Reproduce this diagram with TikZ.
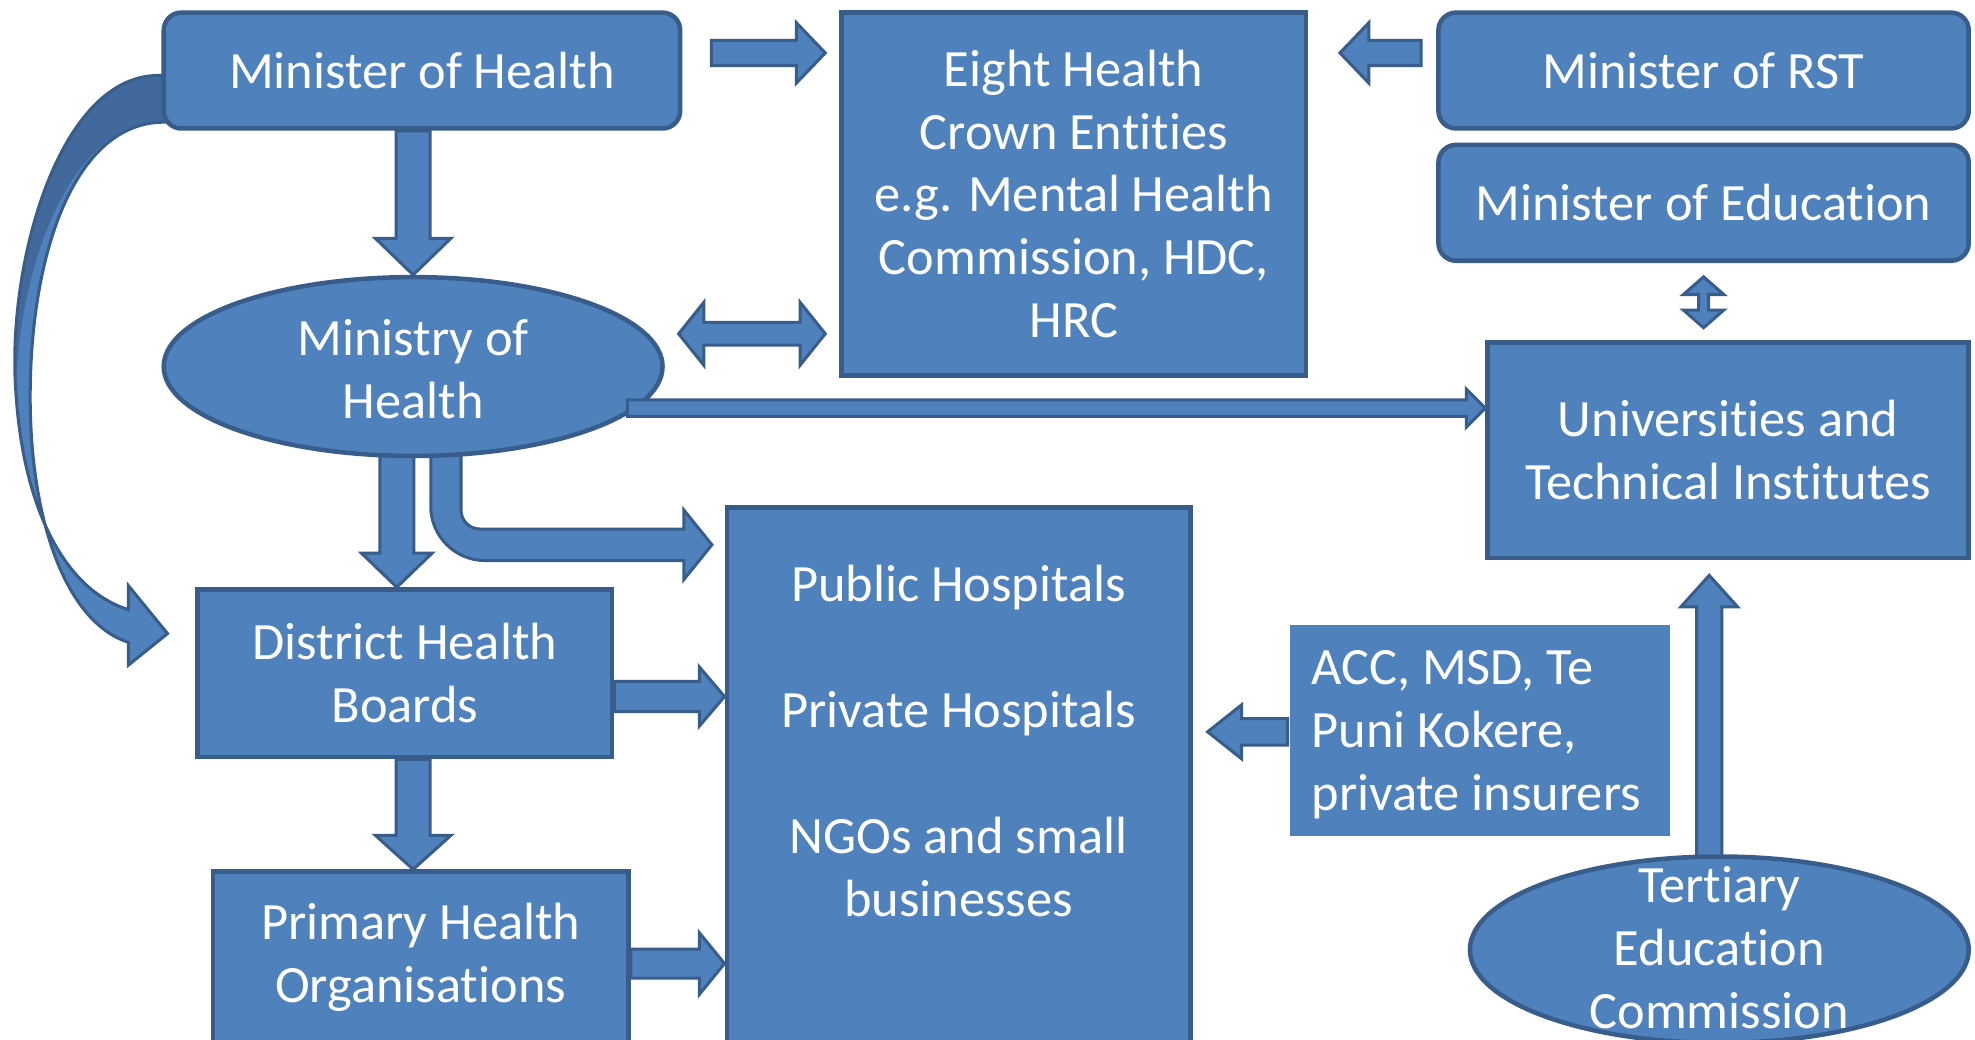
\documentclass[tikz,border=0pt]{standalone}
\usepackage{fontspec}
\setmainfont[Ligatures={NoCommon,NoContextual,NoRequired},Contextuals={NoAlternate}]{Carlito}
\usetikzlibrary{calc,shapes.geometric}

\definecolor{boxfill}{HTML}{4F81BD}
\definecolor{boxline}{HTML}{385D8A}
\definecolor{bandshade}{HTML}{41699C}

\pgfdeclarelayer{back}
\pgfsetlayers{back,main}

% keeps "t" and "i" as two separate glyphs
\newcommand\tsep{t\kern0pt i}

\tikzset{
  base/.style={fill=boxfill, draw=boxline, line width=1.8pt, text=white,
    align=center, inner sep=0pt, font=\fontsize{20.8}{25}\selectfont},
  box/.style={base, rectangle},
  rbox/.style={base, rectangle, rounded corners=7pt},
  oval/.style={base, ellipse},
  plain/.style={base, draw=none},
  lbl/.style={text=white, align=center, inner sep=0pt,
    font=\fontsize{20.8}{25}\selectfont},
  barrow/.style={fill=boxfill, draw=boxline, line width=1.2pt, line join=miter},
}

% measures the segment from #1 to #2: start point, angle and length
\newcommand\measureseg[2]{%
  \path let \p1=(#1), \p2=(#2),
    \n1={atan2(\y2-\y1,\x2-\x1)}, \n2={veclen(\x2-\x1,\y2-\y1)} in
    \pgfextra{\xdef\baX{\x1}\xdef\baY{\y1}\xdef\baAraw{\n1}\xdef\baLraw{\n2}};
  \pgfmathsetmacro\baA{\baAraw}\pgfmathsetmacro\baL{\baLraw}}

% block arrow: [options]{from}{to}{shaft width}{head width}{head length}
\newcommand\blockarrow[6][]{%
  \measureseg{#2}{#3}%
  \pgfmathsetmacro\baS{#4*0.25}\pgfmathsetmacro\baH{#5*0.25}%
  \pgfmathsetmacro\baB{\baL-#6*0.5}%
  \draw[barrow,#1,shift={(\baX,\baY)},rotate=\baA]
    (0pt,-\baS pt) -- (\baB pt,-\baS pt) -- (\baB pt,-\baH pt) -- (\baL pt,0pt)
    -- (\baB pt,\baH pt) -- (\baB pt,\baS pt) -- (0pt,\baS pt) -- cycle;}

% double-headed block arrow, same arguments
\newcommand\dblockarrow[6][]{%
  \measureseg{#2}{#3}%
  \pgfmathsetmacro\baS{#4*0.25}\pgfmathsetmacro\baH{#5*0.25}%
  \pgfmathsetmacro\baF{#6*0.5}\pgfmathsetmacro\baB{\baL-#6*0.5}%
  \draw[barrow,#1,shift={(\baX,\baY)},rotate=\baA]
    (0pt,0pt) -- (\baF pt,-\baH pt) -- (\baF pt,-\baS pt) -- (\baB pt,-\baS pt)
    -- (\baB pt,-\baH pt) -- (\baL pt,0pt) -- (\baB pt,\baH pt) -- (\baB pt,\baS pt)
    -- (\baF pt,\baS pt) -- (\baF pt,\baH pt) -- cycle;}

% outline of the curved arrow from the minister to the health boards
\newcommand\bandpath{(140,60) -- (130,60) .. controls (50,55) and (8,200) .. (12,300)
  .. controls (16,400) and (50,468) .. (102,484) -- (102,465) -- (133,503)
  -- (102,528) -- (102,510) .. controls (55,495) and (25,420) .. (24,320)
  .. controls (23,200) and (60,97) .. (130,97) -- (140,97) -- cycle}

\begin{document}
\begin{tikzpicture}[x=0.5pt,y=-0.5pt]
\useasboundingbox (0,0) rectangle (1568,825);

% ---- organisations ----
\node[rbox, minimum width=205pt, minimum height=46pt] (mh) at (335,56) {Minister of Health};
\node[box, minimum width=184.5pt, minimum height=144pt] (ehce) at (852.5,154)
  {Eight Health\\Crown En\tsep\tsep es\\e.g. Mental Health\\Commission, HDC,\\HRC};
\node[rbox, minimum width=210.5pt, minimum height=46pt] (mrst) at (1352.5,56) {Minister of RST};
\node[rbox, minimum width=210.5pt, minimum height=46pt] (medu) at (1352.5,161) {Minister of Educa\tsep on};
\node[oval, minimum width=198pt, minimum height=71pt,
  label={[lbl, yshift=-1pt]center:{Ministry of\\Health}}] (moh) at (328,291) {};
\node[box, minimum width=191pt, minimum height=85.5pt] (uti) at (1372,357.5)
  {Universi\tsep es and\\Technical Insti\kern0pt tutes};
\node[box, minimum width=184pt, minimum height=216pt] (pub) at (761,619) {};
\node[lbl] (pubtxt) at (761,588)
  {Public Hospitals\\[25pt]Private Hospitals\\[25pt]NGOs and small\\businesses};
\node[box, minimum width=164.5pt, minimum height=66.5pt] (dhb) at (321.5,534.5)
  {District Health\\Boards};
\node[box, minimum width=165pt, minimum height=68pt] (pho) at (334,760)
  {Primary Health\\Organisa\tsep ons};
\node[plain, minimum width=151pt, minimum height=84pt,
  label={[lbl, align=left, xshift=-1.5pt, yshift=-1.5pt]center:{ACC, MSD, Te\\Puni Kokere,\\private insurers}}]
  (acc) at (1175,580) {};
\node[oval, minimum width=198pt, minimum height=74pt,
  label={[lbl, yshift=1pt]center:{Ter\tsep ary\\Educa\tsep on\\Commission}}] (tec) at (1365,754) {};

% ---- connectors passing behind the shapes ----
\begin{pgfonlayer}{back}
  \fill[white] (0,0) rectangle (1568,825);
  \fill[boxfill] \bandpath;
  \fill[bandshade] (135,61) -- (130,61) .. controls (50,56) and (9,200) .. (13,300)
    .. controls (18,200) and (60,96) .. (130,96) -- (135,96) -- cycle;
  \draw[boxline, line width=1.2pt] \bandpath;

  \coordinate (f1) at ($(moh.south)+(-13,-10)$);
  \blockarrow{f1}{f1 |- dhb.north}{27}{56}{27}

  \draw[barrow] ($(moh.south)+(14,-8)$) -- (342,402)
    .. controls (342,425.7) and (361.3,445) .. (385,445) -- (543,445) -- (543,460)
    -- ($(pub.west |- 0,432.5)+(-10,0)$) -- (543,405) -- (543,420) -- (381,420)
    .. controls (372.7,420) and (366,413.3) .. (366,405) -- ($(moh.south)+(38,-8)$) -- cycle;

  \coordinate (l1) at ($(tec.north)+(-8,10)$);
  \blockarrow{l1}{$(l1 |- uti.south)+(0,12)$}{20}{45}{25}
\end{pgfonlayer}

% ---- connectors ----
\coordinate (a1) at ($(mh.east)+(23,-14)$);
\blockarrow{a1}{$(ehce.west |- a1)+(-11,0)$}{20}{48}{23}

\coordinate (b1) at ($(mrst.west)+(-12,-14)$);
\blockarrow{b1}{$(ehce.east |- b1)+(25,0)$}{20}{48}{23}

\coordinate (c1) at ($(moh.east)+(11,-26)$);
\dblockarrow{c1}{$(ehce.west |- c1)+(-11,0)$}{18}{50}{20}

\blockarrow{moh.north |- mh.south}{moh.north}{27}{60}{29}

\coordinate (e1) at ($(moh.center)+(170,33)$);
\blockarrow{e1}{uti.west |- e1}{13}{30}{15}

\coordinate (h1) at ($(dhb.east)+(0,18.5)$);
\blockarrow{h1}{pub.west |- h1}{24}{47}{20}

\coordinate (i1) at ($(dhb.south)+(6.5,0)$);
\blockarrow{i1}{i1 |- pho.north}{27}{60}{27}

\coordinate (j1) at ($(pho.east)+(0,5)$);
\blockarrow{j1}{pub.west |- j1}{23}{49}{20}

\coordinate (k1) at ($(acc.west)+(0,1)$);
\blockarrow{k1}{$(pub.east |- k1)+(12,0)$}{21}{43}{27}

\coordinate (m1) at ($(medu.south)+(0,11)$);
\dblockarrow{m1}{$(m1 |- uti.north)+(0,-10)$}{8}{32}{14}
\end{tikzpicture}
\end{document}
